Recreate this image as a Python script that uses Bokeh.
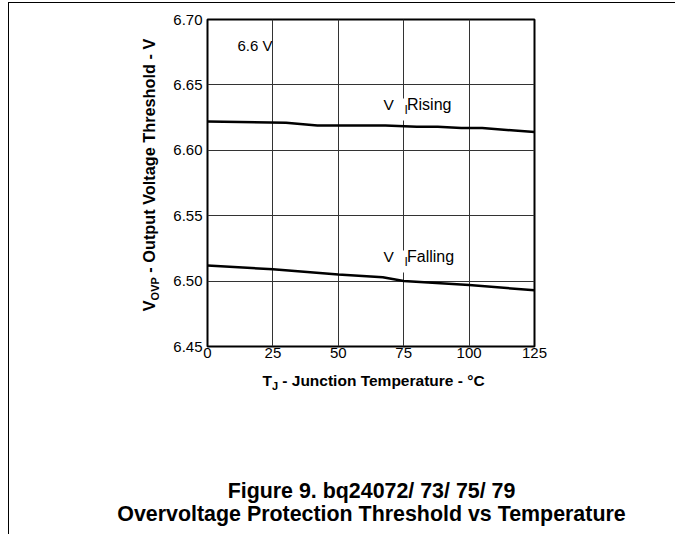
from bokeh.plotting import figure
from bokeh.models import Range1d, FixedTicker, Label, NumeralTickFormatter, Div
from bokeh.layouts import column, row
from bokeh.embed import file_html
from bokeh.resources import INLINE

# ---- data ----
temp_rising = [0, 30, 42, 68, 80, 88, 97, 105, 125]
v_rising = [6.622, 6.621, 6.619, 6.619, 6.618, 6.618, 6.617, 6.617, 6.614]
temp_falling = [0, 25, 50, 67, 75, 100, 125]
v_falling = [6.512, 6.509, 6.505, 6.503, 6.500, 6.497, 6.493]
x_ticks = [0, 25, 50, 75, 100, 125]
y_ticks = [6.45, 6.50, 6.55, 6.60, 6.65, 6.70]

X0, X1 = 0, 125
Y0, Y1 = 6.45, 6.70

FONT = "Liberation Sans"
CSSFONT = "'Liberation Sans', Arial, sans-serif"

# page layout (pixels)
OX, OY = 9, 3            # content origin inside the bordered container
YDIV_W = 150             # width of the column holding the y-axis label
FX0, FX1, FY0, FY1 = 207, 534, 19, 346   # frame edges on the page
TOTAL_W, TOTAL_H = 667, 532
P_W = TOTAL_W - YDIV_W
P_H = 367


def dx(px):
    return X0 + (px - FX0) / (FX1 - FX0) * (X1 - X0)


def dy(py):
    return Y1 - (py - FY0) / (FY1 - FY0) * (Y1 - Y0)


mbl = FX0 - OX - YDIV_W
mbt = FY0 - OY
p = figure(width=P_W, height=P_H, output_backend="svg", toolbar_location=None,
           x_range=Range1d(X0, X1), y_range=Range1d(Y0, Y1),
           min_border_left=mbl, min_border_top=mbt,
           min_border_right=P_W - mbl - (FX1 - FX0),
           min_border_bottom=P_H - mbt - (FY1 - FY0), margin=0)
p.outline_line_color = "black"
p.outline_line_width = 2
p.background_fill_color = "white"
p.border_fill_color = "white"

for ax in (p.xaxis[0], p.yaxis[0]):
    ax.axis_line_color = None
    ax.major_tick_line_color = None
    ax.minor_tick_line_color = None
    ax.major_tick_in = 0
    ax.major_tick_out = 0
    ax.major_label_text_font = FONT
    ax.major_label_text_font_size = "15px"
    ax.major_label_text_color = "black"

p.xaxis.ticker = FixedTicker(ticks=x_ticks)
p.yaxis.ticker = FixedTicker(ticks=y_ticks)
p.yaxis.formatter = NumeralTickFormatter(format="0.00")
p.xaxis.major_label_standoff = 1
p.yaxis.major_label_standoff = 5

p.xgrid.ticker = FixedTicker(ticks=x_ticks)
p.ygrid.ticker = FixedTicker(ticks=y_ticks)
for g in (p.xgrid[0], p.ygrid[0]):
    g.grid_line_color = "#333333"
    g.grid_line_width = 1

p.line(temp_rising, v_rising, line_color="black", line_width=2.5)
p.line(temp_falling, v_falling, line_color="black", line_width=2.5)


def lab(px, py, text, size="15px", **kw):
    l = Label(x=dx(px), y=dy(py), text=text, text_font=FONT,
              text_font_size=size, text_align="left", text_baseline="middle",
              text_color="black", **kw)
    p.add_layout(l)
    return l


# in-plot annotations
lab(237, 45, "6.6 V")
lab(383, 104, "V", size="15.5px")
lab(400, 109, "I", size="12px", background_fill_color="white", padding=4)
lab(406.5, 104, "Rising", size="16px")
lab(383, 256, "V", size="15.5px")
lab(400, 261, "I", size="12px", background_fill_color="white", padding=4)
lab(406.5, 256, "Falling", size="16px")

# ---- text outside the plot frame (HTML, for subscripts) ----
def abs_text(cx, cy, html, size, rotate=False):
    tr = "translate(-50%,-50%)" + (" rotate(-90deg)" if rotate else "")
    return (f'<div style="position:absolute; left:{cx}px; top:{cy}px; transform:{tr}; '
            f'white-space:nowrap; font-family:{CSSFONT}; font-weight:bold; '
            f'font-size:{size}px; line-height:1; color:black;">{html}</div>')


def sub(t, size, shift):
    return f'<span style="font-size:{size}px; position:relative; top:{shift}px;">{t}</span>'


ylabel_html = "V" + sub("OVP", 11, 4) + " - Output Voltage Threshold - V"
ydiv = Div(width=YDIV_W, height=P_H, margin=0,
           text=f'<div style="position:relative; width:{YDIV_W}px; height:{P_H}px;">'
                + abs_text(149 - OX, 175 - OY, ylabel_html, 16.3, rotate=True) + '</div>')

BOT_H = TOTAL_H - P_H
by0 = OY + P_H
xlabel_html = "T" + sub("J", 11, 4) + " - Junction Temperature - °C"
cap1 = "Figure 9. bq24072/ 73/ 75/ 79"
cap2 = "Overvoltage Protection Threshold vs Temperature"
bdiv = Div(width=TOTAL_W, height=BOT_H, margin=0,
           text=f'<div style="position:relative; width:{TOTAL_W}px; height:{BOT_H}px;">'
                + abs_text(373.5 - OX, 381 - by0, xlabel_html, 15.5)
                + abs_text(371.5 - OX, 492 - by0, cap1, 21.4)
                + abs_text(371.5 - OX, 515 - by0, cap2, 21.4)
                + '</div>')

layout = column(row(ydiv, p, spacing=0, margin=0), bdiv, spacing=0,
                width=TOTAL_W, height=TOTAL_H, margin=(2, 0, 0, 8),
                styles={"border-top": "1px solid black", "border-left": "1px solid black",
                        "background": "white"})

open("out.html", "w").write(file_html(layout, INLINE))
